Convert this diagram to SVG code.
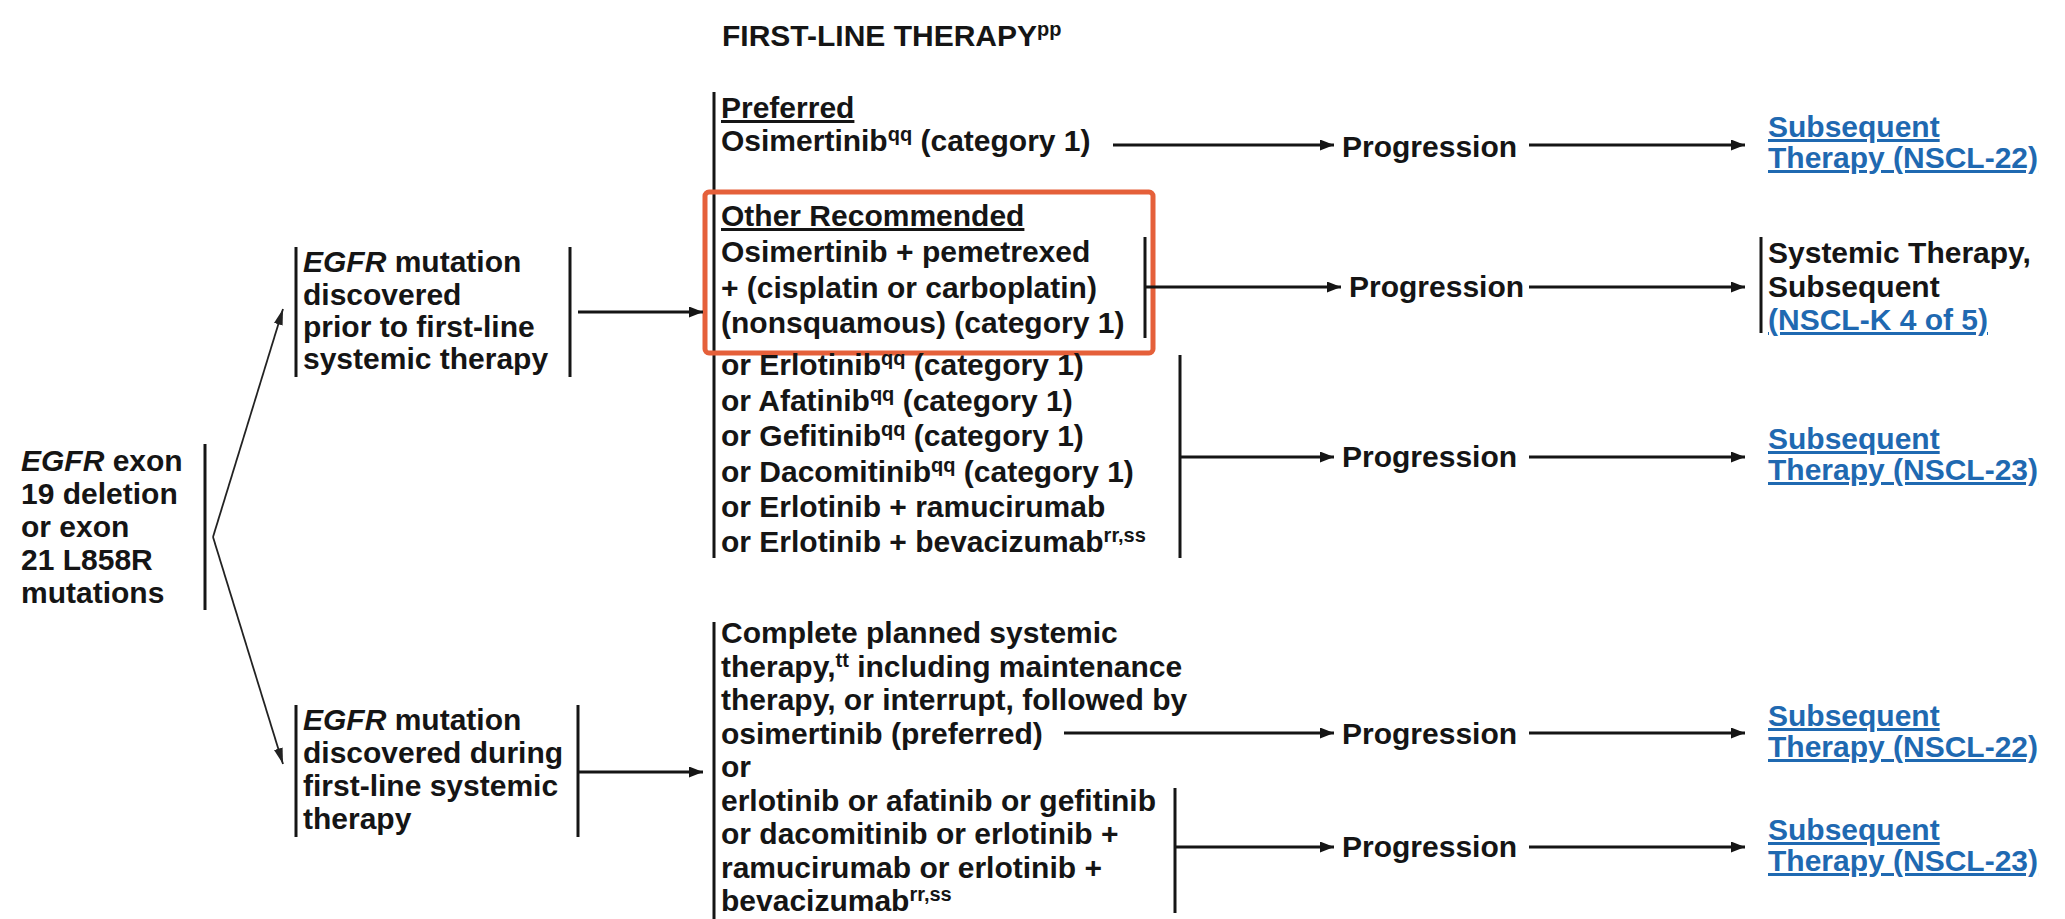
<svg xmlns="http://www.w3.org/2000/svg" width="2065" height="919" viewBox="0 0 2065 919">
  <defs>
    <style>
      text { font-family: "Liberation Sans", Arial, sans-serif; font-size: 30px; font-weight: bold; fill: #151515; }
      .sup { font-size: 20px; }
      .it { font-style: italic; }
      .u { text-decoration: underline; }
      .link { fill: #1F69B1; text-decoration: underline; }
      .bar { stroke: #151515; stroke-width: 3; fill: none; }
      .arrow { stroke: #151515; stroke-width: 3; fill: none; marker-end: url(#head); }
      .diag { stroke: #222; stroke-width: 1.8; fill: none; marker-end: url(#headThin); }
      .hilite { fill: none; stroke: #E5603A; stroke-width: 5; }
    </style>
    <marker id="head" viewBox="0 0 14 11" refX="14" refY="5.5" markerUnits="userSpaceOnUse" markerWidth="14" markerHeight="11" orient="auto">
      <path d="M0,0 L14,5.5 L0,11 z" fill="#151515"/>
    </marker>
    <marker id="headThin" viewBox="0 0 16 9" refX="16" refY="4.5" markerUnits="userSpaceOnUse" markerWidth="16" markerHeight="9" orient="auto">
      <path d="M0,0 L16,4.5 L0,9 z" fill="#222"/>
    </marker>
  </defs>

  <rect width="2065" height="919" fill="#ffffff"/>

  <!-- column heading -->
  <g id="heading">
    <text x="722" y="46">FIRST-LINE THERAPY<tspan class="sup" dy="-10">pp</tspan></text>
  </g>

  <!-- starting condition -->
  <g id="n-egfr">
    <text x="21" y="471"><tspan class="it">EGFR</tspan> exon</text>
    <text x="21" y="504">19 deletion</text>
    <text x="21" y="537">or exon</text>
    <text x="21" y="570">21 L858R</text>
    <text x="21" y="603">mutations</text>
    <line class="bar" x1="205" y1="444" x2="205" y2="610"/>
  </g>

  <!-- discovered before first-line therapy -->
  <g id="n-prior">
    <line class="bar" x1="296" y1="247" x2="296" y2="377"/>
    <text x="303" y="272"><tspan class="it">EGFR</tspan> mutation</text>
    <text x="303" y="305">discovered</text>
    <text x="303" y="337">prior to first-line</text>
    <text x="303" y="369">systemic therapy</text>
    <line class="bar" x1="570" y1="247" x2="570" y2="377"/>
  </g>

  <!-- discovered during first-line therapy -->
  <g id="n-during">
    <line class="bar" x1="296" y1="705" x2="296" y2="837"/>
    <text x="303" y="730"><tspan class="it">EGFR</tspan> mutation</text>
    <text x="303" y="763">discovered during</text>
    <text x="303" y="796">first-line systemic</text>
    <text x="303" y="829">therapy</text>
    <line class="bar" x1="578" y1="705" x2="578" y2="837"/>
  </g>

  <!-- first-line options, upper list -->
  <g id="n-firstline">
    <line class="bar" x1="714" y1="92" x2="714" y2="558"/>
    <text x="721" y="118" class="u">Preferred</text>
    <text x="721" y="151">Osimertinib<tspan class="sup" dy="-10">qq</tspan><tspan dy="10"> (category 1)</tspan></text>
  </g>

  <g id="n-other">
    <rect class="hilite" x="705" y="192" width="448" height="161" rx="4"/>
    <text x="721" y="226" class="u">Other Recommended</text>
    <text x="721" y="262">Osimertinib + pemetrexed</text>
    <text x="721" y="298">+ (cisplatin or carboplatin)</text>
    <text x="721" y="333">(nonsquamous) (category 1)</text>
    <line class="bar" x1="1145" y1="237" x2="1145" y2="338"/>
  </g>

  <g id="n-tki">
    <text x="721" y="375">or Erlotinib<tspan class="sup" dy="-10">qq</tspan><tspan dy="10"> (category 1)</tspan></text>
    <text x="721" y="411">or Afatinib<tspan class="sup" dy="-10">qq</tspan><tspan dy="10"> (category 1)</tspan></text>
    <text x="721" y="446">or Gefitinib<tspan class="sup" dy="-10">qq</tspan><tspan dy="10"> (category 1)</tspan></text>
    <text x="721" y="482">or Dacomitinib<tspan class="sup" dy="-10">qq</tspan><tspan dy="10"> (category 1)</tspan></text>
    <text x="721" y="517">or Erlotinib + ramucirumab</text>
    <text x="721" y="552">or Erlotinib + bevacizumab<tspan class="sup" dy="-10">rr,ss</tspan></text>
    <line class="bar" x1="1180" y1="355" x2="1180" y2="558"/>
  </g>

  <!-- first-line options, lower list -->
  <g id="n-complete">
    <line class="bar" x1="714" y1="622" x2="714" y2="919"/>
    <text x="721" y="643">Complete planned systemic</text>
    <text x="721" y="677">therapy,<tspan class="sup" dy="-10">tt</tspan><tspan dy="10"> including maintenance</tspan></text>
    <text x="721" y="710">therapy, or interrupt, followed by</text>
    <text x="721" y="744">osimertinib (preferred)</text>
    <text x="721" y="777">or</text>
  </g>

  <g id="n-tki2">
    <text x="721" y="811">erlotinib or afatinib or gefitinib</text>
    <text x="721" y="844">or dacomitinib or erlotinib +</text>
    <text x="721" y="878">ramucirumab or erlotinib +</text>
    <text x="721" y="911">bevacizumab<tspan class="sup" dy="-10">rr,ss</tspan></text>
    <line class="bar" x1="1175" y1="788" x2="1175" y2="913"/>
  </g>

  <!-- progression labels -->
  <g id="n-prog1"><text x="1342" y="157">Progression</text></g>
  <g id="n-prog2"><text x="1349" y="297">Progression</text></g>
  <g id="n-prog3"><text x="1342" y="467">Progression</text></g>
  <g id="n-prog4"><text x="1342" y="744">Progression</text></g>
  <g id="n-prog5"><text x="1342" y="857">Progression</text></g>

  <!-- destinations -->
  <g id="n-sub22a">
    <text x="1768" y="137" class="link">Subsequent</text>
    <text x="1768" y="168" class="link">Therapy (NSCL-22)</text>
  </g>
  <g id="n-systemic">
    <line class="bar" x1="1761" y1="237" x2="1761" y2="333"/>
    <text x="1768" y="263">Systemic Therapy,</text>
    <text x="1768" y="297">Subsequent</text>
    <text x="1768" y="330" class="link">(NSCL-K 4 of 5)</text>
  </g>
  <g id="n-sub23a">
    <text x="1768" y="449" class="link">Subsequent</text>
    <text x="1768" y="480" class="link">Therapy (NSCL-23)</text>
  </g>
  <g id="n-sub22b">
    <text x="1768" y="726" class="link">Subsequent</text>
    <text x="1768" y="757" class="link">Therapy (NSCL-22)</text>
  </g>
  <g id="n-sub23b">
    <text x="1768" y="840" class="link">Subsequent</text>
    <text x="1768" y="871" class="link">Therapy (NSCL-23)</text>
  </g>

  <!-- connectors -->
  <g id="connectors">
    <path class="diag" d="M213,537 L283,309"/>
    <path class="diag" d="M213,537 L283,764"/>

    <line class="arrow" x1="578" y1="312" x2="703" y2="312"/>
    <line class="arrow" x1="578" y1="772" x2="703" y2="772"/>

    <line class="arrow" x1="1113" y1="145" x2="1334" y2="145"/>
    <line class="arrow" x1="1145" y1="287" x2="1341" y2="287"/>
    <line class="arrow" x1="1180" y1="457" x2="1334" y2="457"/>
    <line class="arrow" x1="1064" y1="733" x2="1334" y2="733"/>
    <line class="arrow" x1="1175" y1="847" x2="1334" y2="847"/>

    <line class="arrow" x1="1529" y1="145" x2="1745" y2="145"/>
    <line class="arrow" x1="1529" y1="287" x2="1745" y2="287"/>
    <line class="arrow" x1="1529" y1="457" x2="1745" y2="457"/>
    <line class="arrow" x1="1529" y1="733" x2="1745" y2="733"/>
    <line class="arrow" x1="1529" y1="847" x2="1745" y2="847"/>
  </g>
</svg>
